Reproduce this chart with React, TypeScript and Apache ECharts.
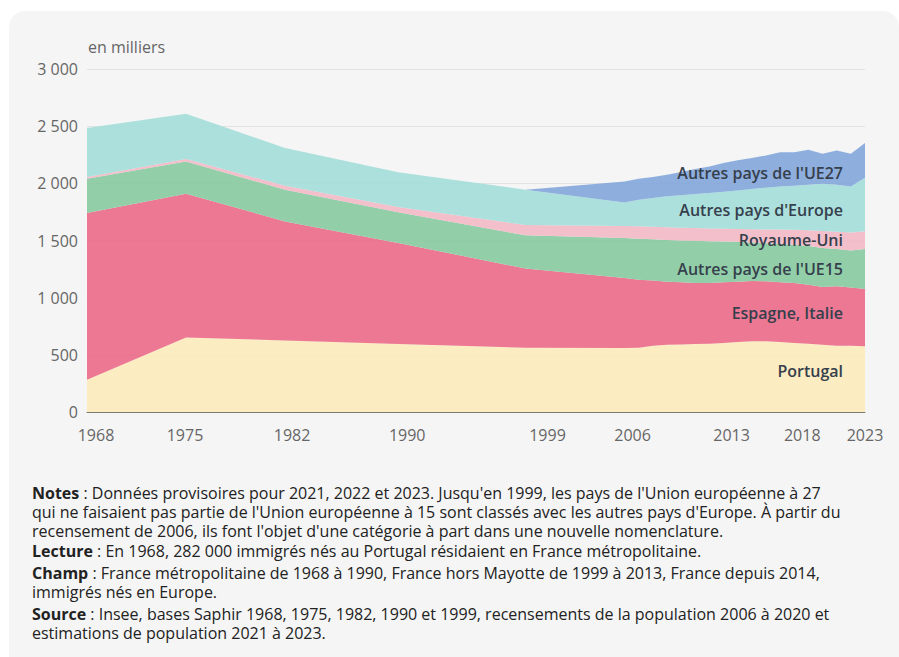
import React, { useEffect, useRef } from "react";
import * as echarts from "echarts";

const years = [1968, 1975, 1982, 1990, 1999, 2006, 2007, 2008, 2009, 2010, 2011, 2012, 2013, 2014, 2015, 2016, 2017, 2018, 2019, 2020, 2021, 2022, 2023];
const xTickYears = [1968, 1975, 1982, 1990, 1999, 2006, 2013, 2018, 2023];

const portugal = [282, 652, 626, 595, 562, 560, 562, 580, 589, 591, 594, 598, 603, 612, 618, 618, 612, 603, 597, 589, 580, 580, 574];
const espagneItalie = [1459, 1257, 1041, 883, 693, 612, 595, 570, 551, 543, 534, 530, 531, 528, 528, 525, 522, 525, 516, 504, 519, 510, 502];
const autresUE15 = [299, 283, 277, 268, 290, 350, 358, 360, 365, 366, 369, 366, 358, 348, 336, 333, 336, 335, 339, 341, 326, 323, 350];
const royaumeUni = [15, 21, 35, 47, 90, 105, 109, 110, 111, 112, 112, 112, 111, 113, 117, 121, 126, 132, 138, 148, 152, 158, 154];
const autresEurope = [429, 396, 330, 303, 309, 206, 233, 252, 270, 283, 298, 310, 324, 337, 352, 365, 377, 384, 398, 415, 411, 402, 469];
const autresUE27 = [0, 0, 0, 0, 0, 184, 184, 183, 190, 204, 218, 232, 251, 263, 271, 282, 298, 292, 306, 262, 300, 286, 304];

const seriesNames = ["Portugal", "Espagne, Italie", "Autres pays de l'UE15", "Royaume-Uni", "Autres pays d'Europe", "Autres pays de l'UE27"];
const seriesValues = [portugal, espagneItalie, autresUE15, royaumeUni, autresEurope, autresUE27];
const seriesColors = ["#fdebbc", "#eb6a88", "#87cba1", "#f3b9c5", "#a4deda", "#83a6dc"];

// horizontal nudge (px) of each x tick label, as in the reference layout
const labelNudge = [9, -1, 7, 9, 22, 8, 8, 8, 0];

const FONT = "'Open Sans', 'Noto Sans', sans-serif";

const labelPos: { name: string; y: number }[] = [
  { name: "Autres pays de l'UE27", y: 173 },
  { name: "Autres pays d'Europe", y: 210 },
  { name: "Royaume-Uni", y: 240 },
  { name: "Autres pays de l'UE15", y: 269 },
  { name: "Espagne, Italie", y: 313 },
  { name: "Portugal", y: 371 },
];

const notes: { bold: string; lines: string[]; top: number }[] = [
  {
    bold: "Notes",
    top: 473,
    lines: [
      " : Données provisoires pour 2021, 2022 et 2023. Jusqu'en 1999, les pays de l'Union européenne à 27",
      "qui ne faisaient pas partie de l'Union européenne à 15 sont classés avec les autres pays d'Europe. À partir du",
      "recensement de 2006, ils font l'objet d'une catégorie à part dans une nouvelle nomenclature.",
    ],
  },
  {
    bold: "Lecture",
    top: 531,
    lines: [" : En 1968, 282 000 immigrés nés au Portugal résidaient en France métropolitaine."],
  },
  {
    bold: "Champ",
    top: 553,
    lines: [
      " : France métropolitaine de 1968 à 1990, France hors Mayotte de 1999 à 2013, France depuis 2014,",
      "immigrés nés en Europe.",
    ],
  },
  {
    bold: "Source",
    top: 594,
    lines: [
      " : Insee, bases Saphir 1968, 1975, 1982, 1990 et 1999, recensements de la population 2006 à 2020 et",
      "estimations de population 2021 à 2023.",
    ],
  },
];

function fmt(v: number): string {
  return String(v).replace(/\B(?=(\d{3})+(?!\d))/g, " ");
}

export default function App() {
  const ref = useRef<HTMLDivElement>(null);

  useEffect(() => {
    if (!ref.current) return;
    const chart = echarts.init(ref.current, null, { renderer: "svg" });
    const rich: Record<string, any> = {};
    labelNudge.forEach((n, i) => {
      rich["t" + i] = {
        color: "#666",
        fontSize: 16,
        fontFamily: FONT,
        padding: n >= 0 ? [0, 0, 0, 2 * n] : [0, -2 * n, 0, 0],
      };
    });
    chart.setOption({
      animation: false,
      textStyle: { fontFamily: FONT },
      grid: { left: 87, right: 34, top: 69, bottom: 58 },
      xAxis: {
        type: "value",
        min: 1968,
        max: 2023,
        axisLine: { show: true, lineStyle: { color: "#7a7a72", width: 1 } },
        axisTick: { show: false },
        splitLine: { show: false },
        axisLabel: {
          customValues: xTickYears,
          color: "#666",
          fontSize: 16,
          fontFamily: FONT,
          margin: 15,
          rich,
          formatter: (v: number) => {
            const i = xTickYears.indexOf(v);
            return i >= 0 ? `{t${i}|${v}}` : String(v);
          },
        },
      },
      yAxis: {
        type: "value",
        min: 0,
        max: 3000,
        interval: 500,
        axisLine: { show: false },
        axisTick: { show: false },
        splitLine: { lineStyle: { color: "#e2e2e2", width: 1 } },
        axisLabel: {
          color: "#666",
          fontSize: 16,
          fontFamily: FONT,
          margin: 9,
          formatter: (v: number) => fmt(v),
        },
      },
      series: seriesNames.map((name, i) => ({
        name,
        type: "line",
        stack: "total",
        symbol: "none",
        showSymbol: false,
        lineStyle: { width: 0 },
        areaStyle: { color: seriesColors[i], opacity: 0.9 },
        itemStyle: { color: seriesColors[i] },
        dimensions: ["value", "year"],
        encode: { x: 1, y: 0 },
        data: years.map((y, j) => [seriesValues[i][j], y]),
      })),
      graphic: [
        {
          type: "text",
          left: 88,
          top: 39,
          z: 100,
          style: { text: "en milliers", fill: "#666", font: `16px ${FONT}` },
        },
        ...labelPos.map((l) => ({
          type: "text",
          x: 843,
          y: l.y,
          z: 100,
          style: {
            text: l.name,
            fill: "#363f4c",
            font: `600 16px ${FONT}`,
            align: "right",
            verticalAlign: "middle",
          },
        })),
      ],
    });
    return () => chart.dispose();
  }, []);

  const lineStyle: React.CSSProperties = {
    position: "absolute",
    left: 23,
    margin: 0,
    height: 19,
    fontFamily: FONT,
    fontSize: 16,
    lineHeight: "19px",
    color: "#222",
    whiteSpace: "nowrap",
  };

  return (
    <div style={{ position: "fixed", left: 0, top: 0, width: 899, height: 657, background: "#fff", overflow: "hidden" }}>
      <div style={{ position: "absolute", left: 9, top: 11, width: 890, height: 670, background: "#f5f5f5", borderRadius: 16 }}>
        <div ref={ref} style={{ position: "absolute", left: -9, top: -11, width: 899, height: 470 }} />
        {notes.map((n) =>
          n.lines.map((line, k) => (
            <div key={n.bold + k} style={{ ...lineStyle, top: n.top + k * 19 }}>
              {k === 0 ? <b>{n.bold}</b> : null}
              {line}
            </div>
          ))
        )}
      </div>
    </div>
  );
}
